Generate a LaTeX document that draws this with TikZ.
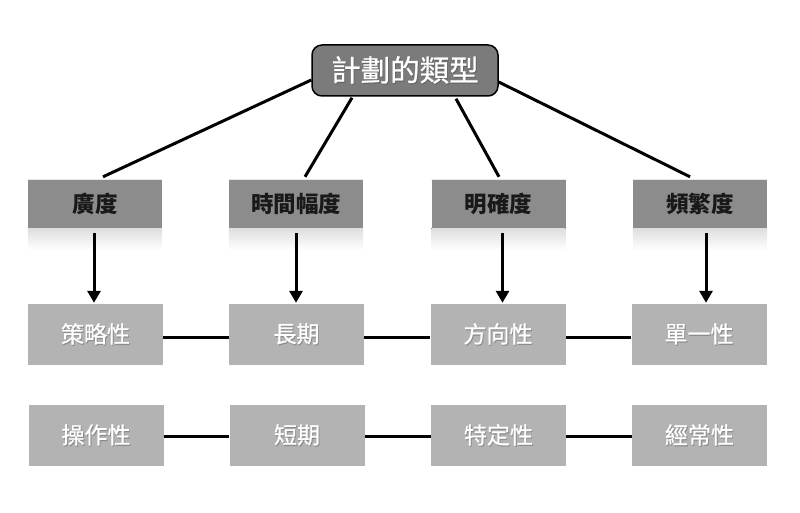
\documentclass[tikz,border=0pt]{standalone}
\usepackage{fontspec}
\setmainfont{Noto Sans CJK TC}
\newfontfamily\medfont[FakeBold=0.8]{Noto Sans CJK TC}
\usetikzlibrary{arrows.meta}
\definecolor{topfill}{HTML}{7B7B7B}
\definecolor{catfill}{HTML}{8C8C8C}
\definecolor{rowfill}{HTML}{B3B3B3}
\newcommand\shd[2]{\leavevmode\rlap{\raisebox{-1.2pt}{\kern0.9pt\textcolor{#1}{#2}}}#2}
\tikzset{
  topbox/.style={draw=black, line width=1.5pt, fill=topfill, rounded corners=10pt,
    minimum width=186pt, minimum height=51pt, text=white, font=\medfont\fontsize{29.5}{33}\selectfont},
  catbox/.style={fill=catfill, minimum width=134pt, minimum height=48pt, text=black!90,
    font=\fontsize{22.5}{26}\selectfont\bfseries, inner sep=0pt},
  rowbox/.style={fill=rowfill, minimum width=135pt, minimum height=61pt, text=white,
    font=\medfont\fontsize{23}{26}\selectfont, inner sep=0pt},
  conn/.style={line width=3pt, black},
  arr/.style={line width=3pt, black, -{Triangle[length=12pt,width=13pt]}}
}
\begin{document}
\begin{tikzpicture}[x=1pt,y=-1pt]
\useasboundingbox[fill=white] (0,0) rectangle (800,513);
\node[topbox] (top) at (405,70.5) {\shd{black!60}{計劃的類型}};
\node[catbox] (c1) at (95,204) {廣度};
\node[catbox] (c2) at (296,204) {時間幅度};
\node[catbox] (c3) at (498.5,204) {明確度};
\node[catbox] (c4) at (700,204) {頻繁度};
\foreach \c in {c1,c2,c3,c4}{
  \fill[top color=black!13, bottom color=white] (\c.south west) rectangle ([yshift=-22pt]\c.south east);
  \draw[white!80!catfill, line width=0.8pt] (\c.north west) -- (\c.north east);
}
\node[rowbox] (a1) at (95.5,334.5) {\shd{black!45}{策略性}};
\node[rowbox] (a2) at (296.5,334.5) {\shd{black!45}{長期}};
\node[rowbox] (a3) at (498,334.5) {\shd{black!45}{方向性}};
\node[rowbox] (a4) at (699,334.5) {\shd{black!45}{單一性}};
\node[rowbox] (b1) at (96,435.5) {\shd{black!45}{操作性}};
\node[rowbox] (b2) at (297,435.5) {\shd{black!45}{短期}};
\node[rowbox] (b3) at (498.5,435.5) {\shd{black!45}{特定性}};
\node[rowbox] (b4) at (699.5,435.5) {\shd{black!45}{經常性}};
% lines from the top node
\draw[conn] ([yshift=-9.5pt]top.west) -- ([xshift=8pt,yshift=3pt]c1.north);
\draw[conn] ([xshift=-53pt,yshift=-1pt]top.south) -- ([xshift=9pt,yshift=3pt]c2.north);
\draw[conn] ([xshift=51pt,yshift=-2pt]top.south) -- ([xshift=0.5pt,yshift=3pt]c3.north);
\draw[conn] ([yshift=-11.5pt]top.east) -- ([xshift=-10pt,yshift=3pt]c4.north);
% arrows
\draw[arr] ([xshift=-1pt,yshift=-5pt]c1.south) -- ([xshift=-1.5pt,yshift=1pt]a1.north);
\draw[arr] ([yshift=-5pt]c2.south) -- ([xshift=-0.5pt,yshift=1pt]a2.north);
\draw[arr] ([xshift=4pt,yshift=-5pt]c3.south) -- ([xshift=4.5pt,yshift=1pt]a3.north);
\draw[arr] ([xshift=6pt,yshift=-5pt]c4.south) -- ([xshift=7pt,yshift=1pt]a4.north);
% horizontal connectors
\foreach \p/\q in {a1/a2,a2/a3,a3/a4}{
  \draw[conn] ([yshift=-3pt]\p.east) -- ([yshift=-3pt]\q.west);
}
\foreach \p/\q in {b1/b2,b2/b3,b3/b4}{
  \draw[conn] ([yshift=-1pt]\p.east) -- ([yshift=-1pt]\q.west);
}
\end{tikzpicture}
\end{document}
